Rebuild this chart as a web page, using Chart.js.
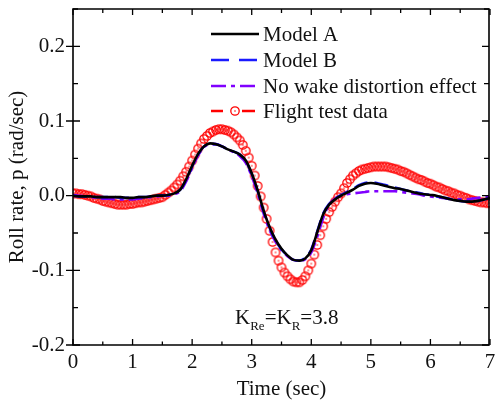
<!DOCTYPE html>
<html>
<head>
<meta charset="utf-8">
<script src="https://cdn.jsdelivr.net/npm/chart.js@4.4.0/dist/chart.umd.min.js"></script>
<style>
  html, body { margin: 0; padding: 0; background: #fff; }
</style>
</head>
<body>
<canvas id="roll-chart" width="495" height="402"></canvas>
<script>
// time grid of the model curves (0.1 s) and of the flight data (0.05 s)
const modelTime = [
  0.0, 0.1, 0.2, 0.3, 0.4, 0.5, 0.6, 0.7, 0.8, 0.9,
  1.0, 1.1, 1.2, 1.3, 1.4, 1.5, 1.6, 1.7, 1.8, 1.9,
  2.0, 2.1, 2.2, 2.3, 2.4, 2.5, 2.6, 2.7, 2.8, 2.9,
  3.0, 3.1, 3.2, 3.3, 3.4, 3.5, 3.6, 3.7, 3.8, 3.9,
  4.0, 4.1, 4.2, 4.3, 4.4, 4.5, 4.6, 4.7, 4.8, 4.9,
  5.0, 5.1, 5.2, 5.3, 5.4, 5.5, 5.6, 5.7, 5.8, 5.9,
  6.0, 6.1, 6.2, 6.3, 6.4, 6.5, 6.6, 6.7, 6.8, 6.9,
  7.0,
];

const modelA = [
  0.000, -0.001, -0.001, -0.001, -0.002, -0.002, -0.002, -0.002, -0.002, -0.003,
  -0.003, -0.002, -0.002, -0.001, 0.000, 0.000, 0.001, 0.003, 0.008, 0.022,
  0.040, 0.056, 0.066, 0.070, 0.069, 0.066, 0.062, 0.059, 0.055, 0.047,
  0.030, 0.007, -0.020, -0.042, -0.059, -0.071, -0.080, -0.086, -0.087, -0.084,
  -0.073, -0.049, -0.025, -0.012, -0.005, 0.000, 0.004, 0.008, 0.013, 0.016,
  0.017, 0.016, 0.014, 0.012, 0.010, 0.009, 0.007, 0.005, 0.003, 0.002,
  0.001, 0.000, -0.002, -0.004, -0.006, -0.007, -0.008, -0.008, -0.007, -0.005,
  -0.003,
];

const modelB = [
  0.000, -0.001, -0.001, -0.001, -0.002, -0.002, -0.002, -0.002, -0.003, -0.003,
  -0.003, -0.002, -0.002, -0.001, 0.000, 0.000, 0.001, 0.003, 0.008, 0.021,
  0.039, 0.055, 0.066, 0.069, 0.069, 0.066, 0.062, 0.059, 0.055, 0.046,
  0.029, 0.006, -0.021, -0.043, -0.060, -0.072, -0.080, -0.086, -0.087, -0.083,
  -0.072, -0.048, -0.024, -0.011, -0.004, 0.001, 0.005, 0.009, 0.014, 0.017,
  0.018, 0.017, 0.015, 0.013, 0.011, 0.009, 0.007, 0.005, 0.004, 0.002,
  0.001, -0.001, -0.002, -0.004, -0.006, -0.007, -0.008, -0.008, -0.007, -0.005,
  -0.003,
];

const noWake = [
  0.001, 0.000, -0.001, -0.002, -0.003, -0.004, -0.004, -0.005, -0.005, -0.005,
  -0.005, -0.004, -0.003, -0.002, -0.001, 0.000, 0.000, 0.002, 0.006, 0.019,
  0.037, 0.054, 0.065, 0.069, 0.069, 0.066, 0.062, 0.058, 0.053, 0.044,
  0.026, 0.003, -0.024, -0.046, -0.062, -0.073, -0.081, -0.086, -0.087, -0.085,
  -0.076, -0.055, -0.030, -0.012, -0.004, 0.000, 0.002, 0.003, 0.004, 0.005,
  0.006, 0.006, 0.006, 0.006, 0.006, 0.005, 0.004, 0.003, 0.002, 0.000,
  -0.001, -0.002, -0.003, -0.004, -0.005, -0.005, -0.005, -0.004, -0.003, -0.002,
  -0.001,
];

const flightData = [
  0.003, 0.003, 0.002, 0.002, 0.001, 0.000, -0.001, -0.003, -0.004, -0.005,
  -0.007, -0.008, -0.009, -0.010, -0.011, -0.012, -0.012, -0.012, -0.012, -0.011,
  -0.011, -0.010, -0.009, -0.009, -0.008, -0.007, -0.006, -0.005, -0.004, -0.003,
  -0.002, 0.001, 0.004, 0.007, 0.011, 0.015, 0.020, 0.026, 0.032, 0.039,
  0.047, 0.055, 0.063, 0.070, 0.076, 0.080, 0.084, 0.086, 0.088, 0.089,
  0.089, 0.088, 0.087, 0.085, 0.082, 0.078, 0.074, 0.068, 0.060, 0.051,
  0.040, 0.027, 0.013, -0.001, -0.016, -0.031, -0.047, -0.062, -0.076, -0.087,
  -0.096, -0.103, -0.108, -0.112, -0.115, -0.116, -0.116, -0.113, -0.108, -0.100,
  -0.091, -0.079, -0.066, -0.053, -0.041, -0.031, -0.022, -0.015, -0.008, -0.002,
  0.003, 0.010, 0.017, 0.022, 0.027, 0.030, 0.033, 0.035, 0.036, 0.037,
  0.038, 0.039, 0.039, 0.039, 0.039, 0.039, 0.038, 0.037, 0.036, 0.035,
  0.033, 0.032, 0.030, 0.028, 0.026, 0.024, 0.022, 0.021, 0.019, 0.017,
  0.016, 0.014, 0.012, 0.011, 0.009, 0.007, 0.006, 0.004, 0.003, 0.001,
  0.000, -0.002, -0.003, -0.005, -0.006, -0.007, -0.008, -0.009, -0.009, -0.010,
  -0.010,
];
// flight samples every 0.05 s from 0 to 7 s
const flightTime = flightData.map((_, i) => +(i * 0.05).toFixed(2));

const xTicks = [0, 1, 2, 3, 4, 5, 6, 7];
const yTicks = [-0.2, -0.1, 0.0, 0.1, 0.2];
const seriesNames = [
  "Model A",
  "Model B",
  "No wake distortion effect",
  "Flight test data",
];

const FONT = "'Liberation Serif', 'Times New Roman', serif";
const FONT_SIZE = 21;

function circleDotMarker(color) {
  const c = document.createElement("canvas");
  c.width = 12;
  c.height = 12;
  const g = c.getContext("2d");
  g.strokeStyle = color;
  g.lineWidth = 1.3;
  g.beginPath();
  g.arc(6, 6, 4.2, 0, Math.PI * 2);
  g.stroke();
  g.fillStyle = color;
  g.beginPath();
  g.arc(6, 6, 0.8, 0, Math.PI * 2);
  g.fill();
  return c;
}
const redMarker = circleDotMarker("#ff0000");

function pairs(xs, ys) {
  return ys.map((y, i) => ({ x: xs[i], y: y }));
}

// frame, inward ticks, x tick labels, legend and the K annotation
const decorations = {
  id: "decorations",
  afterDraw(chart) {
    const { ctx, scales } = chart;
    const xs = scales.x;
    const ys = scales.y;
    const left = xs.getPixelForValue(0);
    const right = xs.getPixelForValue(7);
    const top = ys.getPixelForValue(0.25);
    const bottom = ys.getPixelForValue(-0.2);
    ctx.save();
    ctx.strokeStyle = "#000";
    ctx.lineWidth = 1.6;
    ctx.beginPath();
    ctx.moveTo(left, top);
    ctx.lineTo(right - 1, top);
    ctx.lineTo(right - 1, bottom);
    ctx.lineTo(left, bottom);
    ctx.closePath();
    ctx.stroke();

    ctx.lineWidth = 1.3;
    ctx.beginPath();
    for (let t = 0; t <= 7; t += 0.5) {
      const px = xs.getPixelForValue(t);
      const major = Number.isInteger(t);
      ctx.moveTo(px, bottom);
      ctx.lineTo(px, bottom - (major ? 6 : 3.5));
      ctx.moveTo(px, top);
      ctx.lineTo(px, top + (major ? 6 : 4));
    }
    for (let i = -4; i <= 5; i++) {
      const py = ys.getPixelForValue(i * 0.05);
      const major = i % 2 === 0;
      ctx.moveTo(major ? left - 7 : left, py);
      ctx.lineTo(left + (major ? 7 : 5), py);
      ctx.moveTo(right - 1, py);
      ctx.lineTo(right - 1 - (major ? 7 : 5), py);
    }
    ctx.stroke();

    // x tick labels (drawn here so the last one may hang off the edge)
    ctx.font = FONT_SIZE + "px " + FONT;
    ctx.fillStyle = "#111";
    ctx.textAlign = "center";
    ctx.textBaseline = "top";
    xTicks.forEach((v) => {
      ctx.fillText(String(v), xs.getPixelForValue(v), bottom + 7);
    });

    // legend
    const rows = [34, 60, 86, 111];
    ctx.textBaseline = "middle";
    ctx.textAlign = "left";
    chart.data.datasets.forEach((ds, i) => {
      const y = rows[i];
      ctx.save();
      ctx.strokeStyle = ds.legendColor;
      ctx.lineWidth = 2.6;
      ctx.setLineDash(ds.legendDash);
      ctx.beginPath();
      if (ds.showLine === false) {
        ctx.moveTo(211, y);
        ctx.lineTo(223, y);
        ctx.moveTo(242, y);
        ctx.lineTo(255, y);
        ctx.stroke();
        ctx.drawImage(redMarker, 235 - 6, y - 6);
      } else {
        ctx.moveTo(211, y);
        ctx.lineTo(259, y);
        ctx.stroke();
      }
      ctx.restore();
      ctx.fillText(ds.label, 263, y + 1);
    });

    // K_Re = K_R = 3.8
    let kx = xs.getPixelForValue(2.72);
    const ky = ys.getPixelForValue(-0.172);
    const parts = [
      ["K", FONT_SIZE, 0],
      ["Re", 13, 6],
      ["=K", FONT_SIZE, 0],
      ["R", 13, 6],
      ["=3.8", FONT_SIZE, 0],
    ];
    ctx.textBaseline = "alphabetic";
    parts.forEach(([txt, size, dy]) => {
      ctx.font = size + "px " + FONT;
      ctx.fillText(txt, kx, ky + dy);
      kx += ctx.measureText(txt).width;
    });
    ctx.restore();
  },
};

const ctx = document.getElementById("roll-chart");

new Chart(ctx, {
  type: "line",
  data: {
    datasets: [
      {
        label: seriesNames[0],
        data: pairs(modelTime, modelA),
        borderColor: "#000000",
        borderWidth: 2.6,
        pointRadius: 0,
        cubicInterpolationMode: "monotone",
        legendColor: "#000000",
        legendDash: [],
      },
      {
        label: seriesNames[1],
        data: pairs(modelTime, modelB),
        borderColor: "#1a1aff",
        borderWidth: 2.6,
        borderDash: [14, 7],
        pointRadius: 0,
        cubicInterpolationMode: "monotone",
        legendColor: "#1a1aff",
        legendDash: [18, 10],
      },
      {
        label: seriesNames[2],
        data: pairs(modelTime, noWake),
        borderColor: "#8000ff",
        borderWidth: 2.6,
        borderDash: [14, 5, 4, 5],
        pointRadius: 0,
        cubicInterpolationMode: "monotone",
        legendColor: "#8000ff",
        legendDash: [15, 5, 4, 5],
      },
      {
        label: seriesNames[3],
        data: pairs(flightTime, flightData),
        showLine: false,
        borderColor: "#ff0000",
        pointStyle: redMarker,
        pointRadius: 4,
        legendColor: "#ff0000",
        legendDash: [],
      },
    ],
  },
  options: {
    responsive: false,
    animation: false,
    layout: { padding: { top: 9, right: 4, left: 0, bottom: 0 } },
    plugins: {
      legend: { display: false },
      tooltip: { enabled: false },
    },
    scales: {
      x: {
        type: "linear",
        min: 0,
        max: 7,
        afterFit: (scale) => {
          scale.height = 57;
          scale.paddingLeft = 0;
          scale.paddingRight = 0;
        },
        grid: { display: false, drawTicks: false },
        border: { display: false },
        ticks: { display: false },
        title: {
          display: true,
          text: "Time (sec)",
          color: "#111",
          font: { family: FONT, size: FONT_SIZE },
          padding: { top: 0, bottom: 0 },
        },
      },
      y: {
        type: "linear",
        min: -0.2,
        max: 0.25,
        afterBuildTicks: (scale) => {
          scale.ticks = yTicks.map((v) => ({ value: v }));
        },
        afterFit: (scale) => {
          scale.width = 73;
          scale.paddingTop = 0;
          scale.paddingBottom = 0;
        },
        grid: { display: false, drawTicks: false },
        border: { display: false },
        ticks: {
          padding: 8,
          color: "#111",
          font: { family: FONT, size: FONT_SIZE },
          callback: (v) => Number(v).toFixed(1),
        },
        title: {
          display: true,
          text: "Roll rate, p (rad/sec)",
          color: "#111",
          font: { family: FONT, size: FONT_SIZE },
          padding: { top: 5, bottom: 0 },
        },
      },
    },
  },
  plugins: [decorations],
});
</script>
</body>
</html>
